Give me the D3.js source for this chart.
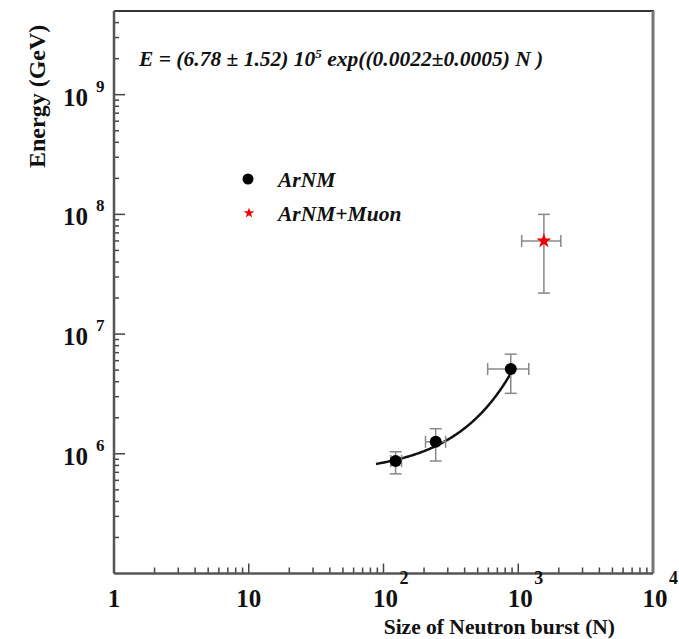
<!DOCTYPE html>
<html>
<head>
<meta charset="utf-8">
<script src="https://cdn.jsdelivr.net/npm/d3@7"></script>
<style>
  body { margin: 0; background: #fff; }
  text { font-family: "Liberation Serif", "DejaVu Serif", serif; font-weight: bold; fill: #111; }
</style>
</head>
<body>
<div id="chart"></div>
<script>
// ArNM points (N, E) with error bar ends
var arnmN   = [123, 244, 880];
var arnmE   = [8.7e5, 1.26e6, 5.1e6];
var arnmNLo = [113, 205, 593];
var arnmNHi = [136, 289, 1197];
var arnmELo = [6.8e5, 8.7e5, 3.2e6];
var arnmEHi = [1.04e6, 1.62e6, 6.8e6];

// ArNM+Muon point
var muonN   = [1550];
var muonE   = [6.0e7];
var muonNLo = [1060];
var muonNHi = [2070];
var muonELo = [2.2e7];
var muonEHi = [1.0e8];

// fit E = A exp(B N), as printed on the chart
var fitA = 6.78e5;
var fitB = 0.0022;
var fitRange = [88, 950];

var xTicks = [1, 10, 100, 1000, 10000];
var xTickLabels = ["1", "10", "10|2", "10|3", "10|4"];
var yTicks = [1e6, 1e7, 1e8, 1e9];
var yTickLabels = ["10|6", "10|7", "10|8", "10|9"];

var W = 679, H = 639;
var margin = {left: 114, right: 26, top: 11, bottom: 65.5};

var svg = d3.select("#chart").append("svg")
    .attr("width", W)
    .attr("height", H);

var x = d3.scaleLog().domain([1, 1e4]).range([margin.left, W - margin.right]);
var y = d3.scaleLog().domain([1e5, 5e9]).range([H - margin.bottom, margin.top]);

var x0 = x.range()[0], x1 = x.range()[1];
var y0 = y.range()[0], y1 = y.range()[1];

// frame
svg.append("line").attr("x1", x0).attr("x2", x1 + 1).attr("y1", y1).attr("y2", y1)
    .attr("stroke", "#333").attr("stroke-width", 2);
svg.append("line").attr("x1", x1).attr("x2", x1).attr("y1", y1).attr("y2", y0)
    .attr("stroke", "#777").attr("stroke-width", 3);

// minor + major ticks (inside, ROOT style)
function logTicks(domain) {
  var out = [];
  var lo = Math.floor(Math.log10(domain[0])), hi = Math.ceil(Math.log10(domain[1]));
  for (var e = lo; e <= hi; e++) {
    for (var m = 1; m < 10; m++) {
      var v = m * Math.pow(10, e);
      if (v >= domain[0] && v <= domain[1]) out.push({v: v, major: m === 1});
    }
  }
  return out;
}

var gAx = svg.append("g").attr("stroke", "#444").attr("stroke-width", 1.5);
logTicks(x.domain()).forEach(function(t) {
  if (t.v <= 1 || t.v >= 1e4) return;
  gAx.append("line")
      .attr("x1", x(t.v)).attr("x2", x(t.v))
      .attr("y1", y0).attr("y2", y0 - (t.major ? 10 : 6));
});
logTicks(y.domain()).forEach(function(t) {
  if (t.v <= 1e5) return;
  gAx.append("line")
      .attr("x1", x0).attr("x2", x0 + (t.major ? 11 : 5))
      .attr("y1", y(t.v)).attr("y2", y(t.v));
});

// axis lines
svg.append("line").attr("x1", x0).attr("x2", x1).attr("y1", y0).attr("y2", y0)
    .attr("stroke", "#555").attr("stroke-width", 2.5);
svg.append("line").attr("x1", x0).attr("x2", x0).attr("y1", y1).attr("y2", y0)
    .attr("stroke", "#555").attr("stroke-width", 2.5);

// tick labels
xTicks.forEach(function(v, i) {
  var parts = xTickLabels[i].split("|");
  svg.append("text")
      .attr("x", x(v) + (parts[1] ? 2 : 0))
      .attr("y", 607)
      .attr("text-anchor", "middle")
      .attr("font-size", 25)
      .text(parts[0]);
  if (parts[1]) {
    svg.append("text")
        .attr("x", x(v) + 16)
        .attr("y", 584)
        .attr("font-size", 18)
        .text(parts[1]);
  }
});

yTicks.forEach(function(v, i) {
  var parts = yTickLabels[i].split("|");
  svg.append("text")
      .attr("x", 88)
      .attr("y", y(v) + 11)
      .attr("text-anchor", "end")
      .attr("font-size", 25)
      .text(parts[0]);
  svg.append("text")
      .attr("x", 96)
      .attr("y", y(v) - 3)
      .attr("font-size", 17)
      .text(parts[1]);
});

// axis titles
svg.append("text")
    .attr("x", 615).attr("y", 634)
    .attr("text-anchor", "end")
    .attr("font-size", 21.5)
    .text("Size of Neutron burst (N)");

svg.append("text")
    .attr("transform", "translate(45,168) rotate(-90)")
    .attr("font-size", 24)
    .text("Energy (GeV)");

// fit formula
var f = svg.append("text")
    .attr("x", 139).attr("y", 66)
    .attr("font-size", 21.5)
    .attr("font-style", "italic");
f.append("tspan").text("E = (6.78 \u00b1 1.52) 10");
f.append("tspan").attr("dy", -8).attr("font-size", 13).text("5");
f.append("tspan").attr("dy", 8).text(" exp((0.0022\u00b10.0005) N )");

// fit curve
var fitN = d3.range(fitRange[0], fitRange[1] + 1, 5);
var line = d3.line()
    .x(function(n) { return x(n); })
    .y(function(n) { return y(fitA * Math.exp(fitB * n)); })
    .curve(d3.curveMonotoneX);
svg.append("path")
    .attr("d", line(fitN))
    .attr("fill", "none")
    .attr("stroke", "#111")
    .attr("stroke-width", 2.5);

// error bars
function errBars(N, E, NLo, NHi, ELo, EHi) {
  var g = svg.append("g").attr("stroke", "#888").attr("stroke-width", 1.5).attr("fill", "none");
  N.forEach(function(n, i) {
    var cx = x(n), cy = y(E[i]);
    g.append("line").attr("x1", cx).attr("x2", cx).attr("y1", y(ELo[i])).attr("y2", y(EHi[i]));
    g.append("line").attr("x1", cx - 6).attr("x2", cx + 6).attr("y1", y(ELo[i])).attr("y2", y(ELo[i]));
    g.append("line").attr("x1", cx - 6).attr("x2", cx + 6).attr("y1", y(EHi[i])).attr("y2", y(EHi[i]));
    g.append("line").attr("x1", x(NLo[i])).attr("x2", x(NHi[i])).attr("y1", cy).attr("y2", cy);
    g.append("line").attr("x1", x(NLo[i])).attr("x2", x(NLo[i])).attr("y1", cy - 6).attr("y2", cy + 6);
    g.append("line").attr("x1", x(NHi[i])).attr("x2", x(NHi[i])).attr("y1", cy - 6).attr("y2", cy + 6);
  });
}
errBars(arnmN, arnmE, arnmNLo, arnmNHi, arnmELo, arnmEHi);
errBars(muonN, muonE, muonNLo, muonNHi, muonELo, muonEHi);

// markers
svg.selectAll(".arnm")
    .data(arnmN)
    .enter().append("circle")
    .attr("class", "arnm")
    .attr("cx", function(d) { return x(d); })
    .attr("cy", function(d, i) { return y(arnmE[i]); })
    .attr("r", 6)
    .attr("fill", "#000");

var star = d3.symbol().type(d3.symbolStar).size(70);
svg.selectAll(".muon")
    .data(muonN)
    .enter().append("path")
    .attr("class", "muon")
    .attr("d", star)
    .attr("transform", function(d, i) { return "translate(" + x(d) + "," + y(muonE[i]) + ")"; })
    .attr("fill", "#e00");

// legend
svg.append("circle").attr("cx", 248).attr("cy", 179).attr("r", 5.5).attr("fill", "#000");
svg.append("text").attr("x", 278).attr("y", 187).attr("font-size", 21.5).attr("font-style", "italic").text("ArNM");
svg.append("path").attr("d", d3.symbol().type(d3.symbolStar).size(35))
    .attr("transform", "translate(249,213)").attr("fill", "#e00");
svg.append("text").attr("x", 278).attr("y", 221).attr("font-size", 21.5).attr("font-style", "italic").text("ArNM+Muon");
</script>
</body>
</html>
